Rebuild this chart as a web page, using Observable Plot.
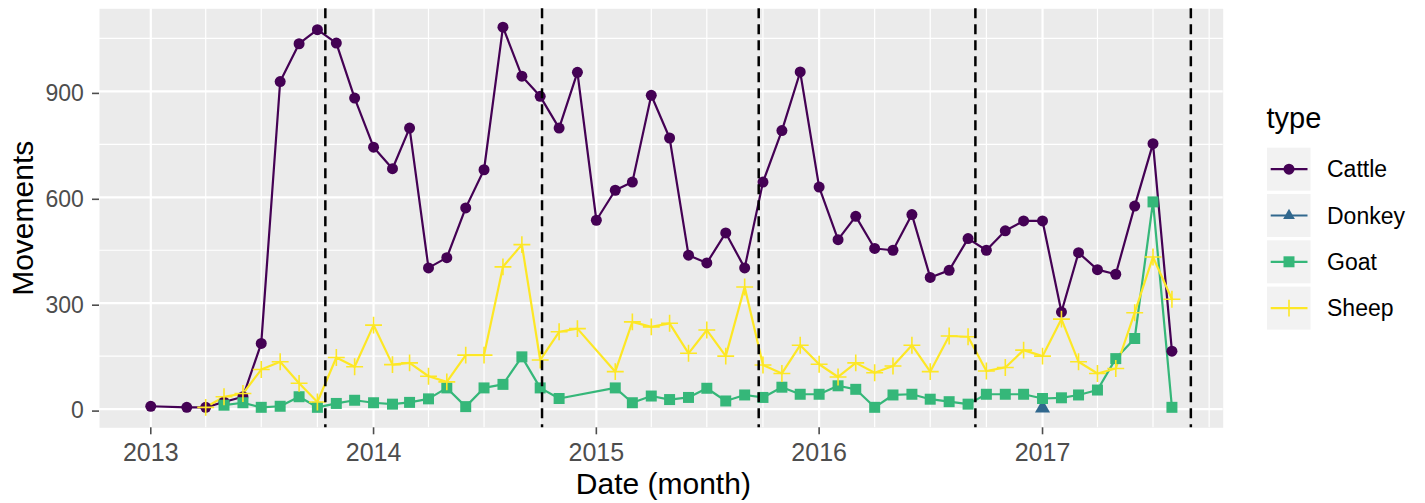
<!DOCTYPE html>
<html><head><meta charset="utf-8">
<script src="https://cdn.jsdelivr.net/npm/d3@7"></script>
<script src="https://cdn.jsdelivr.net/npm/@observablehq/plot@0.6"></script>
<style>
html,body{margin:0;padding:0;background:#fff;}
#wrap{position:relative;width:1425px;height:503px;font-family:"Liberation Sans",Arial,sans-serif;}
#wrap svg{position:absolute;left:0;top:0;}
</style></head><body><div id="wrap"></div>
<script>
// ---- data ----
const months = [
 "2013-01","2013-02","2013-03","2013-04","2013-05","2013-06","2013-07","2013-08","2013-09","2013-10","2013-11","2013-12",
 "2014-01","2014-02","2014-03","2014-04","2014-05","2014-06","2014-07","2014-08","2014-09","2014-10","2014-11","2014-12",
 "2015-01","2015-02","2015-03","2015-04","2015-05","2015-06","2015-07","2015-08","2015-09","2015-10","2015-11","2015-12",
 "2016-01","2016-02","2016-03","2016-04","2016-05","2016-06","2016-07","2016-08","2016-09","2016-10","2016-11","2016-12",
 "2017-01","2017-02","2017-03","2017-04","2017-05","2017-06","2017-07","2017-08"];
const cattle = [
 8,null,5,5,20,35,186,928,1035,1075,1037,881,
 742,681,796,400,429,570,678,1082,943,886,796,954,
 535,620,643,889,768,436,414,499,400,643,789,955,
 629,480,546,455,450,551,373,393,483,450,505,533,
 533,275,443,395,382,575,752,164];
const donkey = [
 null,null,null,null,null,null,null,null,null,null,null,null,
 null,null,null,null,null,null,null,null,null,null,null,null,
 null,null,null,null,null,null,null,null,null,null,null,null,
 null,null,null,null,null,null,null,null,null,null,null,null,
 3,null,null,null,null,null,null,null];
const goat = [
 null,null,null,null,11,18,5,8,35,5,16,25,
 18,14,19,29,60,7,60,70,148,60,30,null,
 null,60,18,37,27,33,59,23,40,33,62,42,
 42,66,56,5,40,42,28,21,14,42,42,42,
 30,32,40,54,143,200,587,5];
const sheep = [
 null,null,null,5,35,44,112,134,73,20,146,120,
 238,126,131,93,77,153,153,403,466,139,219,228,
 null,106,247,233,243,158,224,150,346,125,101,181,
 127,91,131,103,122,181,106,207,205,108,118,167,
 150,255,134,101,115,273,431,311];
const types = ["Cattle","Donkey","Goat","Sheep"];
const typeColors = ["#440154","#31688E","#35B779","#FDE725"];
const yTicks = [0,300,600,900];
const yMinor = [150,450,750,1050];
const xTickLabels = ["2013","2014","2015","2016","2017"];
const xMinorMonths = ["2013-04","2013-07","2013-10","2014-04","2014-07","2014-10","2015-04","2015-07","2015-10","2016-04","2016-07","2016-10","2017-04","2017-07","2017-10"];
const eventDates = ["2013-10-14","2014-10-04","2015-09-24","2016-09-13","2017-09-01"];
const xDomain = ["2012-10-09","2017-10-24"];
const yDomain = [-53,1134];

// ---- build table ----
const pd = d3.utcParse("%Y-%m-%d");
const pm = d3.utcParse("%Y-%m");
const seriesVals = {Cattle: cattle, Donkey: donkey, Goat: goat, Sheep: sheep};
const data = [];
for (const t of types) seriesVals[t].forEach((v,i)=>{ if (v!=null) data.push({date: pm(months[i]), value: v, type: t}); });
const byType = t => data.filter(d=>d.type===t);
const xMajor = xTickLabels.map(y=>pd(y+"-01-01"));
const xMinor = xMinorMonths.map(pm);
const events = eventDates.map(pd);

const W=1425,H=503, ML=99, MR=202.3, MT=8.3, MB=75.7;
const chart = Plot.plot({
  width:W, height:H, marginLeft:ML, marginRight:MR, marginTop:MT, marginBottom:MB,
  style:{fontFamily:"'Liberation Sans', Arial, sans-serif", background:"transparent", overflow:"visible"},
  x:{type:"utc", domain:xDomain.map(pd)},
  y:{domain:yDomain},
  color:{domain:types, range:typeColors},
  marks:[
    Plot.frame({fill:"#EBEBEB", stroke:null}),
    Plot.ruleY(yMinor, {stroke:"#fff", strokeWidth:1.2}),
    Plot.ruleX(xMinor, {stroke:"#fff", strokeWidth:1.2}),
    Plot.ruleY(yTicks, {stroke:"#fff", strokeWidth:2.2}),
    Plot.ruleX(xMajor, {stroke:"#fff", strokeWidth:2.2}),
    Plot.line(data, {x:"date", y:"value", z:"type", stroke:"type", strokeWidth:2.2}),
    Plot.dot(byType("Cattle"), {x:"date", y:"value", fill:"type", symbol:"circle", r:5.5, stroke:null}),
    Plot.dot(byType("Donkey"), {x:"date", y:"value", fill:"type", symbol:"triangle", r:5.6, stroke:null}),
    Plot.dot(byType("Goat"), {x:"date", y:"value", fill:"type", symbol:"square", r:6.2, stroke:null}),
    Plot.dot(byType("Sheep"), {x:"date", y:"value", stroke:"type", symbol:"plus", r:5.5, strokeWidth:1.6}),
    Plot.ruleX(events, {stroke:"#000", strokeWidth:2.5, strokeDasharray:"10,6"}),
    Plot.axisY(yTicks, {tickSize:7, tickPadding:8.7, fontSize:23, color:"#4D4D4D", strokeWidth:1.6, label:null, dy:2}),
    Plot.axisX(xMajor, {tickFormat:d3.utcFormat("%Y"), tickSize:7, tickPadding:8, fontSize:25, color:"#4D4D4D", strokeWidth:1.6, label:null}),
    Plot.text(["Movements"], {frameAnchor:"left", textAnchor:"middle", lineAnchor:"middle", rotate:-90, dx:-76.5, fontSize:30, fill:"#000"}),
    Plot.text(["Date (month)"], {frameAnchor:"bottom", textAnchor:"middle", lineAnchor:"middle", dy:57, dx:2, fontSize:30, fill:"#000"})
  ]
});
document.getElementById("wrap").appendChild(chart);

// ---- legend ----
const lg = d3.select("#wrap").append("svg").attr("width",W).attr("height",H)
  .style("font-family","'Liberation Sans', Arial, sans-serif").style("pointer-events","none");
lg.append("text").attr("x",1266.5).attr("y",128).attr("font-size",29).attr("fill","#000").text("type");
const symMap = {Cattle:[d3.symbolCircle,5.5,true], Donkey:[d3.symbolTriangle2,5.6,true], Goat:[d3.symbolSquare,6.2,true], Sheep:[d3.symbolPlus,5.5,false]};
types.forEach((t,i)=>{
  const y0 = 147.7 + 46.3*i, cy = y0 + 21.5;
  lg.append("rect").attr("x",1267).attr("y",y0).attr("width",43.5).attr("height",43).attr("fill","#F2F2F2");
  lg.append("line").attr("x1",1270.7).attr("x2",1307.5).attr("y1",cy).attr("y2",cy).attr("stroke",typeColors[i]).attr("stroke-width",2.2);
  const [sym,r,filled] = symMap[t];
  const p = lg.append("path").attr("transform",`translate(1289,${cy})`).attr("d", d3.symbol(sym, Math.PI*r*r)());
  if (filled) p.attr("fill",typeColors[i]); else p.attr("fill","none").attr("stroke",typeColors[i]).attr("stroke-width",1.6);
  lg.append("text").attr("x",1327).attr("y",cy).attr("dy","0.35em").attr("font-size",23).attr("fill","#000").text(t);
});
</script>
</body></html>
